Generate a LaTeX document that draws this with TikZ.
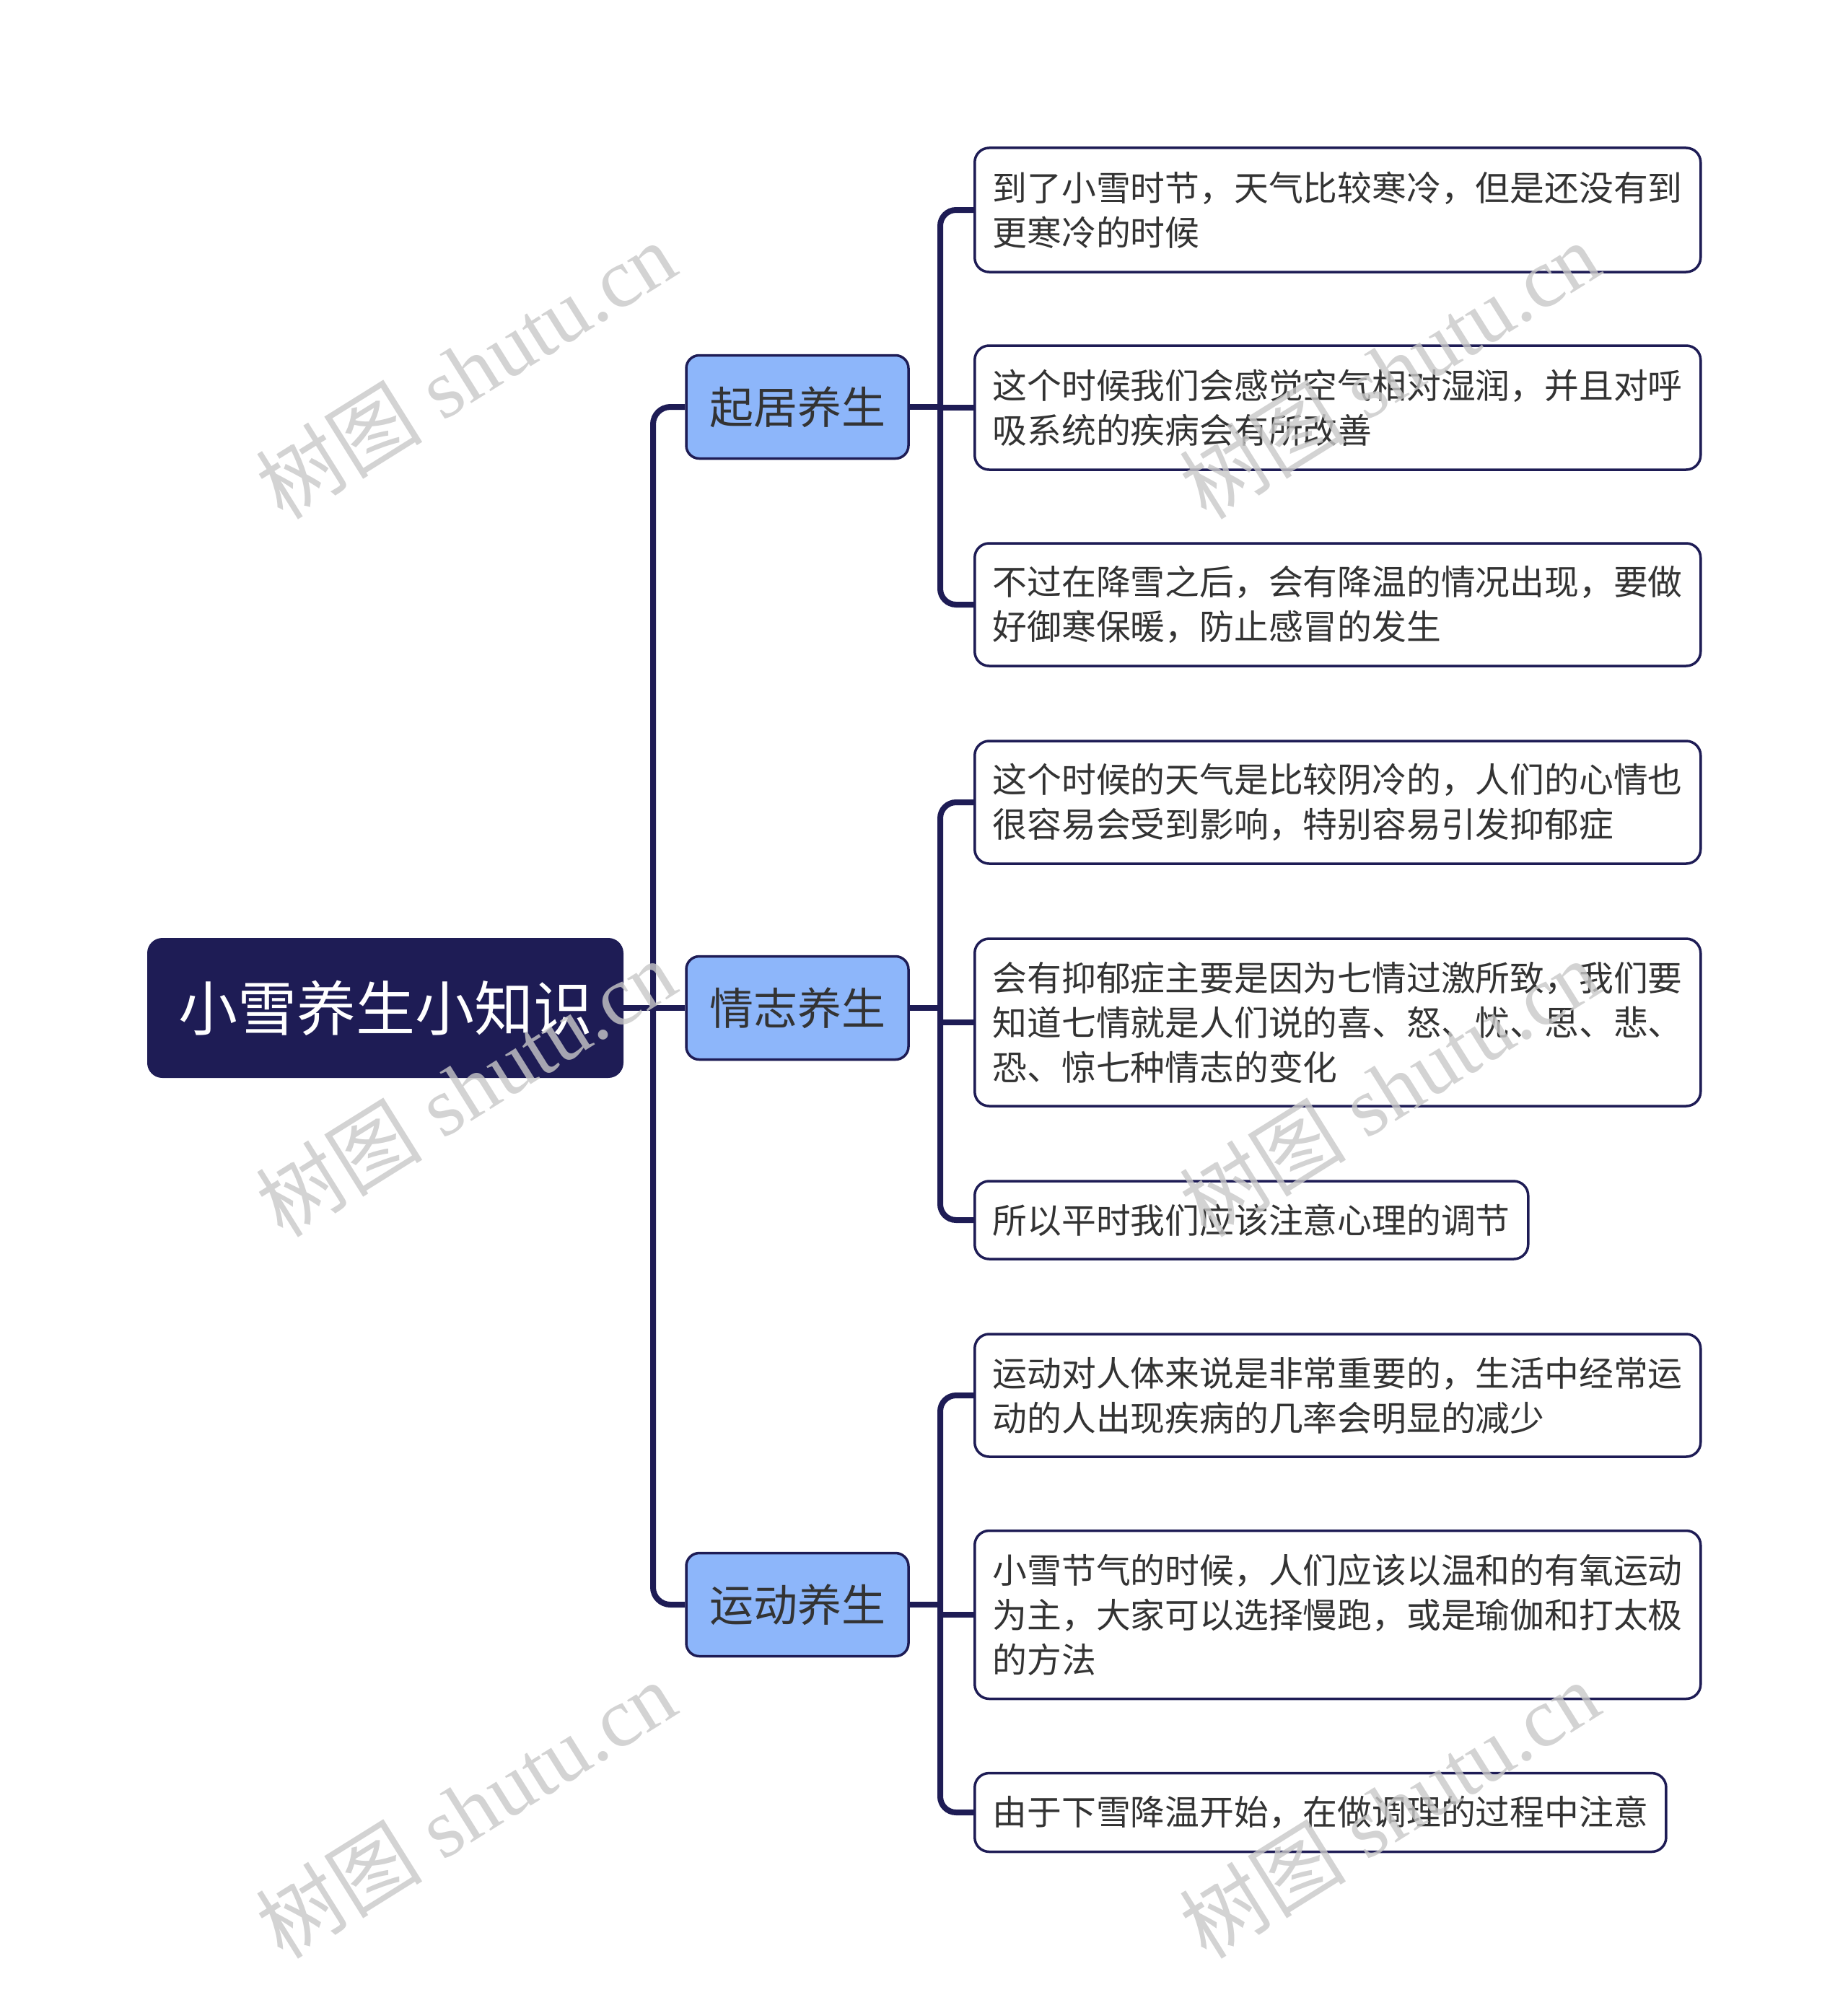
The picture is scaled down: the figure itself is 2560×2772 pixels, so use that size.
\documentclass[tikz,border=0pt]{standalone}
\usepackage{fontspec}
\setmainfont{Liberation Serif}
\newfontfamily\cjk{Noto Sans CJK SC}
\definecolor{navy}{HTML}{1E1C55}
\definecolor{lblue}{HTML}{8DB6FA}
\definecolor{txt}{HTML}{333333}
\definecolor{wm}{HTML}{C8C8C8}
\tikzset{
  conn/.style={draw=navy, line width=8pt},
  rootbox/.style={fill=navy, draw=navy, line width=2pt, rounded corners=20pt, minimum width=658pt, minimum height=192pt, text=white, font=\cjk\fontsize{82pt}{96pt}\selectfont, inner sep=0pt},
  topicbox/.style={fill=lblue, draw=navy, line width=3.5pt, rounded corners=18pt, minimum width=308pt, minimum height=143pt, text=txt, font=\cjk\fontsize{61pt}{72pt}\selectfont, inner sep=0pt},
  leafbox/.style={fill=white, draw=navy, line width=3.5pt, rounded corners=20pt, anchor=west, inner xsep=25pt, inner ysep=0pt, text=txt, align=left, font=\cjk\fontsize{47.8pt}{62pt}\selectfont},
  wmark/.style={text=wm, opacity=0.8, rotate=32, font=\fontsize{116pt}{126pt}\selectfont}
}
\begin{document}
\begin{tikzpicture}[x=1pt, y=-1pt]
\useasboundingbox (0,0) rectangle (2560,2772);
\fill[white] (0,0) rectangle (2560,2772);

% root and topics
\node[rootbox] (root) at (534,1397) {小雪养生小知识};
\node[topicbox] (q1) at (1105,564) {起居养生};
\node[topicbox] (q2) at (1105,1397) {情志养生};
\node[topicbox] (q3) at (1105,2224) {运动养生};

% leaves
\node[leafbox, minimum height=172pt] (l1) at (1349,291) {到了小雪时节，天气比较寒冷，但是还没有到\\更寒冷的时候};
\node[leafbox, minimum height=172pt] (l2) at (1349,565) {这个时候我们会感觉空气相对湿润，并且对呼\\吸系统的疾病会有所改善};
\node[leafbox, minimum height=170pt] (l3) at (1349,838) {不过在降雪之后，会有降温的情况出现，要做\\好御寒保暖，防止感冒的发生};
\node[leafbox, minimum height=170pt] (l4) at (1349,1112) {这个时候的天气是比较阴冷的，人们的心情也\\很容易会受到影响，特别容易引发抑郁症};
\node[leafbox, minimum height=232pt] (l5) at (1349,1417) {会有抑郁症主要是因为七情过激所致，我们要\\知道七情就是人们说的喜、怒、忧、思、悲、\\恐、惊七种情志的变化};
\node[leafbox, minimum height=108pt] (l6) at (1349,1691) {所以平时我们应该注意心理的调节};
\node[leafbox, minimum height=170pt] (l7) at (1349,1934) {运动对人体来说是非常重要的，生活中经常运\\动的人出现疾病的几率会明显的减少};
\node[leafbox, minimum height=233pt] (l8) at (1349,2238) {小雪节气的时候，人们应该以温和的有氧运动\\为主，大家可以选择慢跑，或是瑜伽和打太极\\的方法};
\node[leafbox, minimum height=109pt] (l9) at (1349,2512) {由于下雪降温开始，在做调理的过程中注意};

% trunk coordinates
\coordinate (t) at (905,1397);
\coordinate (s1) at (1303,564);
\coordinate (s2) at (1303,1397);
\coordinate (s3) at (1303,2224);

% connectors
\draw[conn] (root.east) -- (t);
\draw[conn, rounded corners=24pt] (q1.west) -| (t) |- (q3.west);
\draw[conn] (t) -- (q2.west);

\draw[conn] (q1.east) -- (s1);
\draw[conn, rounded corners=22pt] (l1.west) -| (s1) |- (l3.west);
\draw[conn] (s1) |- (l2.west);

\draw[conn] (q2.east) -- (s2);
\draw[conn, rounded corners=22pt] (l4.west) -| (s2) |- (l6.west);
\draw[conn] (s2) |- (l5.west);

\draw[conn] (q3.east) -- (s3);
\draw[conn, rounded corners=22pt] (l7.west) -| (s3) |- (l9.west);
\draw[conn] (s3) |- (l8.west);

% watermarks
\node[wmark] (w1) at (645,513) {{\cjk 树图} shutu.cn};
\node[wmark] (w2) at (1925,513) {{\cjk 树图} shutu.cn};
\node[wmark] (w3) at (645,1508) {{\cjk 树图} shutu.cn};
\node[wmark] (w4) at (1925,1508) {{\cjk 树图} shutu.cn};
\node[wmark] (w5) at (645,2508) {{\cjk 树图} shutu.cn};
\node[wmark] (w6) at (1925,2508) {{\cjk 树图} shutu.cn};
\end{tikzpicture}
\end{document}
